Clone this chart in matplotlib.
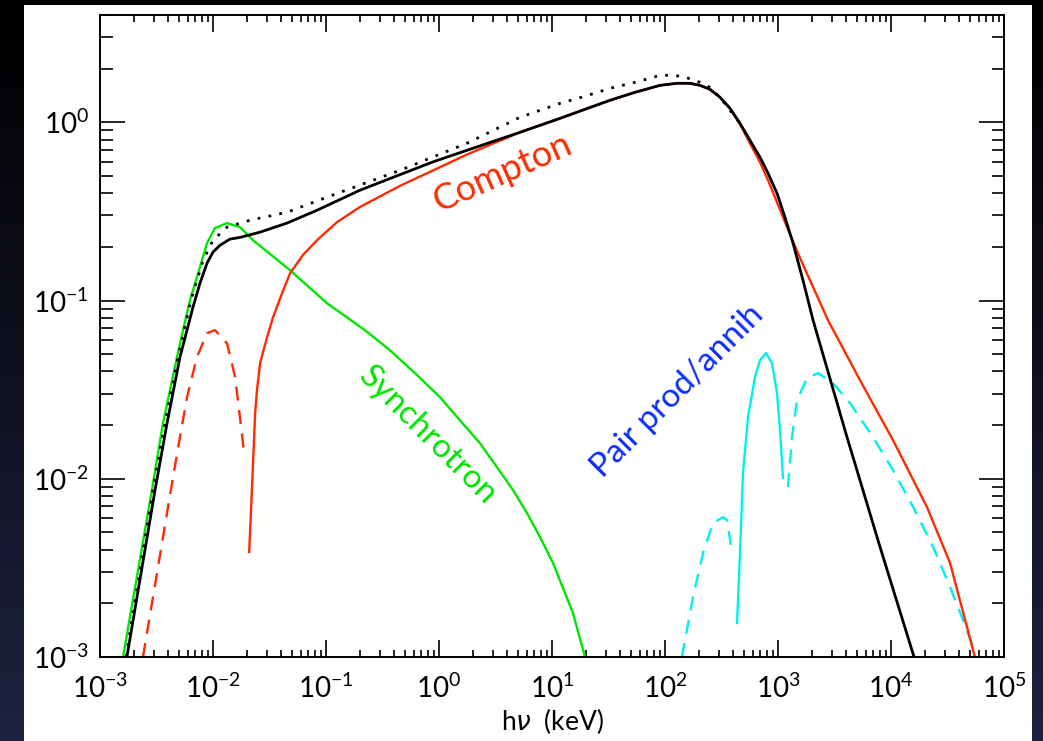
import matplotlib
matplotlib.use("Agg")
import matplotlib.pyplot as plt
from matplotlib.patches import Rectangle
from matplotlib.colors import LinearSegmentedColormap
from matplotlib.ticker import LogLocator, LogFormatterSciNotation, NullFormatter
import numpy as np

plt.rcParams['font.family'] = ['Lato', 'DejaVu Sans']
plt.rcParams['mathtext.fontset'] = 'custom'
plt.rcParams['mathtext.rm'] = 'Lato'
plt.rcParams['mathtext.it'] = 'DejaVu Sans:italic'

# total spectrum (black solid), h nu in keV
tot_x = [1.73e-3, 3.07e-3, 3.92e-3, 5.10e-3, 6.65e-3, 7.67e-3, 8.85e-3, 0.010, 0.0115, 0.0141,
         0.0173, 0.0261, 0.0452, 0.0832, 0.200, 0.885, 5.21, 11.8, 19.6, 32.6, 54.3, 90.3,
         128, 166, 204, 250, 307, 376, 461, 565, 693, 816, 980, 1153, 1358, 1664, 2042,
         4083, 8000, 1.6e4]
tot_y = [1.0e-3, 8.64e-3, 0.0205, 0.0481, 0.0918, 0.125, 0.162, 0.187, 0.204, 0.221,
         0.226, 0.242, 0.272, 0.321, 0.416, 0.600, 0.879, 1.053, 1.183, 1.329, 1.473, 1.612,
         1.655, 1.655, 1.612, 1.531, 1.381, 1.198, 0.987, 0.793, 0.637, 0.518, 0.400, 0.293,
         0.210, 0.130, 0.0776, 0.0171, 4.14e-3, 1.0e-3]

# total without absorption (black dotted)
dot_x = [1.70e-3, 2.94e-3, 3.76e-3, 4.90e-3, 6.38e-3, 8.17e-3, 0.010, 0.0133, 0.0212,
         0.0452, 0.102, 0.452, 1.77, 5.21, 11.8, 19.6, 32.6, 54.3, 90.3, 111, 144, 204,
         250, 307, 461]
dot_y = [1.0e-3, 8.64e-3, 0.0205, 0.0481, 0.1004, 0.168, 0.218, 0.258, 0.282,
         0.313, 0.380, 0.538, 0.763, 1.067, 1.278, 1.40, 1.551, 1.676, 1.835, 1.835, 1.811,
         1.676, 1.571, 1.381, 0.987]

# synchrotron (green)
syn_x = [1.60e-3, 2.88e-3, 3.61e-3, 4.80e-3, 5.43e-3, 6.25e-3, 7.21e-3, 8.85e-3, 0.0104,
         0.0133, 0.0173, 0.0226, 0.0480, 0.102, 0.221, 0.368, 0.614, 1.02, 1.53,
         2.31, 3.26, 4.52, 6.01, 7.83, 10.2, 12.5, 15.3, 19.6]
syn_y = [1.0e-3, 8.64e-3, 0.0205, 0.0481, 0.0682, 0.1004, 0.135, 0.210, 0.255,
         0.272, 0.258, 0.218, 0.148, 0.0966, 0.0682, 0.0526, 0.0391, 0.0287, 0.0213,
         0.0158, 0.0116, 8.64e-3, 6.42e-3, 4.71e-3, 3.37e-3, 2.44e-3, 1.77e-3, 1.0e-3]

# Compton (red solid)
com_x = [0.0209, 0.0221, 0.0236, 0.0245, 0.0261, 0.0301, 0.0340, 0.0409, 0.0480, 0.0625,
         0.0832, 0.125, 0.200, 0.452, 0.885, 1.77, 5.21, 11.8, 19.6, 32.6, 54.3, 90.3,
         128, 166, 204, 250, 307, 376, 461, 565, 693, 816, 940, 1202, 1567, 2768,
         5321, 1.04e4, 2.08e4, 3.33e4, 5.53e4]
com_y = [3.88e-3, 8.64e-3, 0.0233, 0.0314, 0.0445, 0.0623, 0.0806, 0.110, 0.142, 0.180,
         0.218, 0.275, 0.335, 0.440, 0.537, 0.660, 0.879, 1.053, 1.183, 1.329, 1.473, 1.612,
         1.655, 1.655, 1.612, 1.531, 1.381, 1.198, 0.975, 0.762, 0.597, 0.473, 0.380, 0.258,
         0.173, 0.0776, 0.0357, 0.0165, 6.94e-3, 3.37e-3, 1.0e-3]

# first-order Compton bump (red dashed)
com2_x = [2.40e-3, 4.34e-3, 5.10e-3, 5.89e-3, 7.21e-3, 8.85e-3, 0.0104, 0.0133, 0.0157, 0.0173, 0.0188]
com2_y = [1.0e-3, 9.46e-3, 0.0171, 0.0287, 0.0481, 0.0656, 0.0682, 0.0576, 0.0372, 0.0222, 0.0141]

# pair annihilation line (cyan solid)
ann_x = [434, 461, 490, 543, 626, 693, 783, 885, 980, 1042, 1107]
ann_y = [1.55e-3, 3.83e-3, 0.0108, 0.0222, 0.0372, 0.0463, 0.0507, 0.0445, 0.0302, 0.0187, 0.0101]

# pair production (cyan dashed, two pieces)
pp1_x = [141, 177, 217, 266, 326, 354, 392]
pp1_y = [1.0e-3, 2.17e-3, 3.83e-3, 5.64e-3, 6.09e-3, 5.86e-3, 3.83e-3]
pp2_x = [1225, 1330, 1473, 1806, 2261, 3069, 4337, 6934, 1.04e4, 1.57e4, 2.36e4,
         3.33e4, 4.34e4, 5.32e4]
pp2_y = [8.98e-3, 0.0171, 0.0276, 0.0367, 0.0391, 0.0344, 0.0266, 0.0171, 0.0112, 6.94e-3,
         4.14e-3, 2.47e-3, 1.61e-3, 1.14e-3]

red = '#ff2a00'
green = '#00e600'
cyan = '#00f0f0'

fig = plt.figure(figsize=(10.43, 7.41), dpi=100)

# dark slide background with white panel
bg = fig.add_axes([0, 0, 1, 1], zorder=-10)
grad = np.linspace(0, 1, 256).reshape(-1, 1)
bg.imshow(grad, aspect='auto', extent=[0, 1, 0, 1], origin='upper',
          cmap=LinearSegmentedColormap.from_list('bg', ['#000000', '#1e2240']))
bg.add_patch(Rectangle((24 / 1043, 0), (1032 - 24) / 1043, 1 - 5 / 741,
                       facecolor='white', edgecolor='none'))
bg.set_xlim(0, 1)
bg.set_ylim(0, 1)
bg.axis('off')

ax = fig.add_axes([100 / 1043, 1 - 657 / 741, 904 / 1043, 642 / 741])
ax.set_facecolor('white')

ax.plot(com2_x, com2_y, color=red, lw=1.7, ls=(0, (6, 4)))
ax.plot(pp1_x, pp1_y, color=cyan, lw=1.7, ls=(0, (6, 4)))
ax.plot(pp2_x, pp2_y, color=cyan, lw=1.7, ls=(0, (6, 4)))
ax.plot(ann_x, ann_y, color=cyan, lw=1.7)
ax.plot(syn_x, syn_y, color=green, lw=1.7)
ax.plot(com_x, com_y, color=red, lw=1.7)
ax.plot(dot_x, dot_y, color='black', lw=2.0, ls=(0, (1, 3)))
ax.plot(tot_x, tot_y, color='black', lw=2.0)

ax.set_xscale('log')
ax.set_yscale('log')
ax.set_xlim(1e-3, 1e5)
ax.set_ylim(1e-3, 4.0)

ax.xaxis.set_major_locator(LogLocator(base=10, numticks=20))
ax.xaxis.set_minor_locator(LogLocator(base=10, subs=np.arange(2, 10), numticks=20))
ax.yaxis.set_major_locator(LogLocator(base=10, numticks=20))
ax.yaxis.set_minor_locator(LogLocator(base=10, subs=np.arange(2, 10), numticks=20))
ax.xaxis.set_major_formatter(LogFormatterSciNotation())
ax.yaxis.set_major_formatter(LogFormatterSciNotation())
ax.xaxis.set_minor_formatter(NullFormatter())
ax.yaxis.set_minor_formatter(NullFormatter())

ax.tick_params(which='both', direction='in', top=True, right=True, color='black', width=1.2)
ax.tick_params(axis='x', which='major', length=12, pad=12, labelsize=20)
ax.tick_params(axis='x', which='minor', length=5)
ax.tick_params(axis='y', which='major', length=18, pad=8, labelsize=20)
ax.tick_params(axis='y', which='minor', length=9)
for sp in ax.spines.values():
    sp.set_linewidth(1.4)

ax.set_xlabel(r'h$\nu$  (keV)', fontsize=19, labelpad=2)

ax.text(3.6, 0.52, 'Compton', color=red, fontsize=26, rotation=24,
        ha='center', va='center')
ax.text(0.8, 0.0175, 'Synchrotron', color=green, fontsize=24, rotation=-45,
        ha='center', va='center')
ax.text(128, 0.031, 'Pair prod/annih', color='#0a2cff', fontsize=24, rotation=45,
        ha='center', va='center')

fig.savefig('out.png', dpi=100)
